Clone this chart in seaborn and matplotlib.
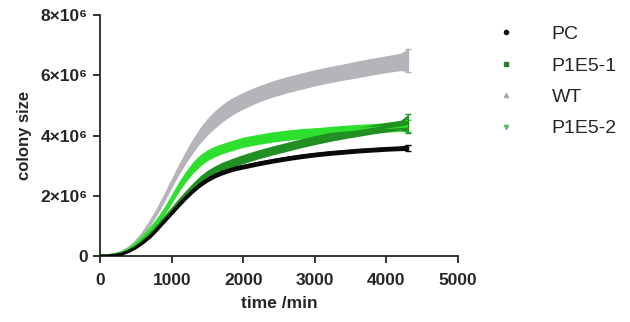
import numpy as np
import pandas as pd
import seaborn as sns
import matplotlib
matplotlib.use("Agg")
import matplotlib.pyplot as plt
from matplotlib.lines import Line2D

# time points (min)
time_min = [0, 100, 200, 300, 400, 500, 600, 700, 800, 900, 1000,
            1100, 1200, 1300, 1400, 1500, 1600, 1700, 1800, 1900, 2000,
            2200, 2400, 2600, 2800, 3000, 3200, 3400, 3600, 3800, 4000, 4200, 4300]

# colony size, units of 1e6
pc_mean = [0.0, 0.0, 0.02, 0.06, 0.15, 0.28, 0.45, 0.65, 0.9, 1.17, 1.43,
           1.7, 1.95, 2.18, 2.38, 2.54, 2.67, 2.77, 2.85, 2.92, 2.97,
           3.07, 3.16, 3.24, 3.31, 3.37, 3.42, 3.46, 3.5, 3.53, 3.56, 3.58, 3.6]
p1e5_1_mean = [0.0, 0.0, 0.03, 0.08, 0.17, 0.31, 0.5, 0.72, 0.98, 1.25, 1.52,
               1.8, 2.06, 2.3, 2.52, 2.7, 2.84, 2.96, 3.05, 3.14, 3.22,
               3.37, 3.5, 3.62, 3.74, 3.85, 3.95, 4.04, 4.12, 4.2, 4.28, 4.35, 4.4]
wt_mean = [0.0, 0.01, 0.05, 0.12, 0.26, 0.47, 0.75, 1.1, 1.5, 1.95, 2.42,
           2.88, 3.3, 3.68, 4.02, 4.3, 4.53, 4.73, 4.9, 5.04, 5.16,
           5.37, 5.54, 5.68, 5.8, 5.92, 6.02, 6.11, 6.2, 6.29, 6.37, 6.45, 6.5]
p1e5_2_mean = [0.0, 0.01, 0.04, 0.1, 0.22, 0.4, 0.62, 0.88, 1.17, 1.5, 1.9,
               2.3, 2.65, 2.95, 3.18, 3.35, 3.47, 3.56, 3.64, 3.71, 3.78,
               3.87, 3.95, 4.01, 4.06, 4.1, 4.14, 4.18, 4.21, 4.24, 4.27, 4.3, 4.32]

# standard deviation, units of 1e6
pc_sd = [0, 0, 0.01, 0.01, 0.02, 0.03, 0.04, 0.05, 0.06, 0.07, 0.07,
         0.08, 0.08, 0.08, 0.08, 0.08, 0.08, 0.08, 0.08, 0.08, 0.08,
         0.08, 0.08, 0.08, 0.08, 0.08, 0.08, 0.08, 0.08, 0.08, 0.08, 0.08, 0.1]
p1e5_1_sd = [0, 0, 0.01, 0.01, 0.02, 0.03, 0.05, 0.06, 0.08, 0.1, 0.11,
             0.12, 0.13, 0.14, 0.15, 0.15, 0.15, 0.15, 0.15, 0.15, 0.15,
             0.15, 0.15, 0.15, 0.15, 0.15, 0.15, 0.15, 0.15, 0.15, 0.16, 0.16, 0.3]
wt_sd = [0, 0, 0.01, 0.02, 0.03, 0.05, 0.07, 0.09, 0.11, 0.13, 0.15,
         0.18, 0.21, 0.24, 0.26, 0.28, 0.29, 0.29, 0.29, 0.28, 0.28,
         0.27, 0.27, 0.27, 0.27, 0.27, 0.27, 0.27, 0.28, 0.28, 0.28, 0.29, 0.38]
p1e5_2_sd = [0, 0, 0.01, 0.02, 0.03, 0.05, 0.07, 0.09, 0.11, 0.13, 0.15,
             0.17, 0.18, 0.19, 0.19, 0.18, 0.18, 0.17, 0.17, 0.17, 0.17,
             0.17, 0.17, 0.17, 0.17, 0.16, 0.16, 0.16, 0.16, 0.16, 0.16, 0.16, 0.2]

groups = ["PC", "P1E5-1", "WT", "P1E5-2"]
colors = {"PC": "#0a0a0a", "P1E5-1": "#228f22", "WT": "#b4b4ba", "P1E5-2": "#2ee02e"}
legend_colors = {"PC": "#0a0a0a", "P1E5-1": "#2c7a2c", "WT": "#a8a8b0", "P1E5-2": "#5cb85c"}
markers = {"PC": "o", "P1E5-1": "s", "WT": "^", "P1E5-2": "v"}

means = {"PC": pc_mean, "P1E5-1": p1e5_1_mean, "WT": wt_mean, "P1E5-2": p1e5_2_mean}
sds = {"PC": pc_sd, "P1E5-1": p1e5_1_sd, "WT": wt_sd, "P1E5-2": p1e5_2_sd}

rows = []
for g in groups:
    for t, m, s in zip(time_min, means[g], sds[g]):
        rows.append({"time": t, "size": m * 1e6, "sd": s * 1e6, "group": g})
df = pd.DataFrame(rows)

sns.set_style("ticks")
plt.rcParams['font.family'] = ['Liberation Sans', 'DejaVu Sans']

fig = plt.figure(figsize=(6.3, 3.22), dpi=100)
ax = fig.add_axes([0.159, 0.205, 0.568, 0.748])

# drawing order: WT behind, then greens, black on top
draw_order = ["WT", "P1E5-2", "P1E5-1", "PC"]
for g in draw_order:
    sub = df[df["group"] == g]
    ax.fill_between(sub["time"], sub["size"] - sub["sd"], sub["size"] + sub["sd"],
                    color=colors[g], lw=0, zorder=2)
    sns.lineplot(data=sub, x="time", y="size", color=colors[g], lw=2.2,
                 ax=ax, legend=False, zorder=3)
    last = sub.iloc[-1]
    ax.errorbar(last["time"], last["size"], yerr=last["sd"], color=colors[g],
                capsize=2, lw=0.8, zorder=3)

ax.set_xlim(0, 5000)
ax.set_ylim(0, 8e6)
ax.set_xticks([0, 1000, 2000, 3000, 4000, 5000])
ax.set_yticks([0, 2e6, 4e6, 6e6, 8e6])
ax.set_yticklabels(["0", "2×10⁶", "4×10⁶", "6×10⁶", "8×10⁶"])
for lab in ax.get_xticklabels() + ax.get_yticklabels():
    lab.set_fontweight("bold")
    lab.set_fontsize(12.5)
ax.tick_params(axis="both", length=5, width=1.3, direction="out", pad=4)
ax.tick_params(axis="x", pad=7)
for sp in ["left", "bottom"]:
    ax.spines[sp].set_linewidth(1.3)
sns.despine(ax=ax)

ax.set_xlabel("time /min", fontsize=12.5, fontweight="bold", labelpad=6)
ax.set_ylabel("colony size", fontsize=12, fontweight="bold", labelpad=6)

handles = [Line2D([0], [0], marker=markers[g], color="none", markerfacecolor=legend_colors[g],
                  markeredgecolor=legend_colors[g], markersize=3, label=g) for g in groups]
fig.legend(handles=handles, loc="upper left", bbox_to_anchor=(0.744, 0.975),
           frameon=False, fontsize=14, handletextpad=1.36, labelspacing=0.71)

fig.savefig("out.png", dpi=100)
